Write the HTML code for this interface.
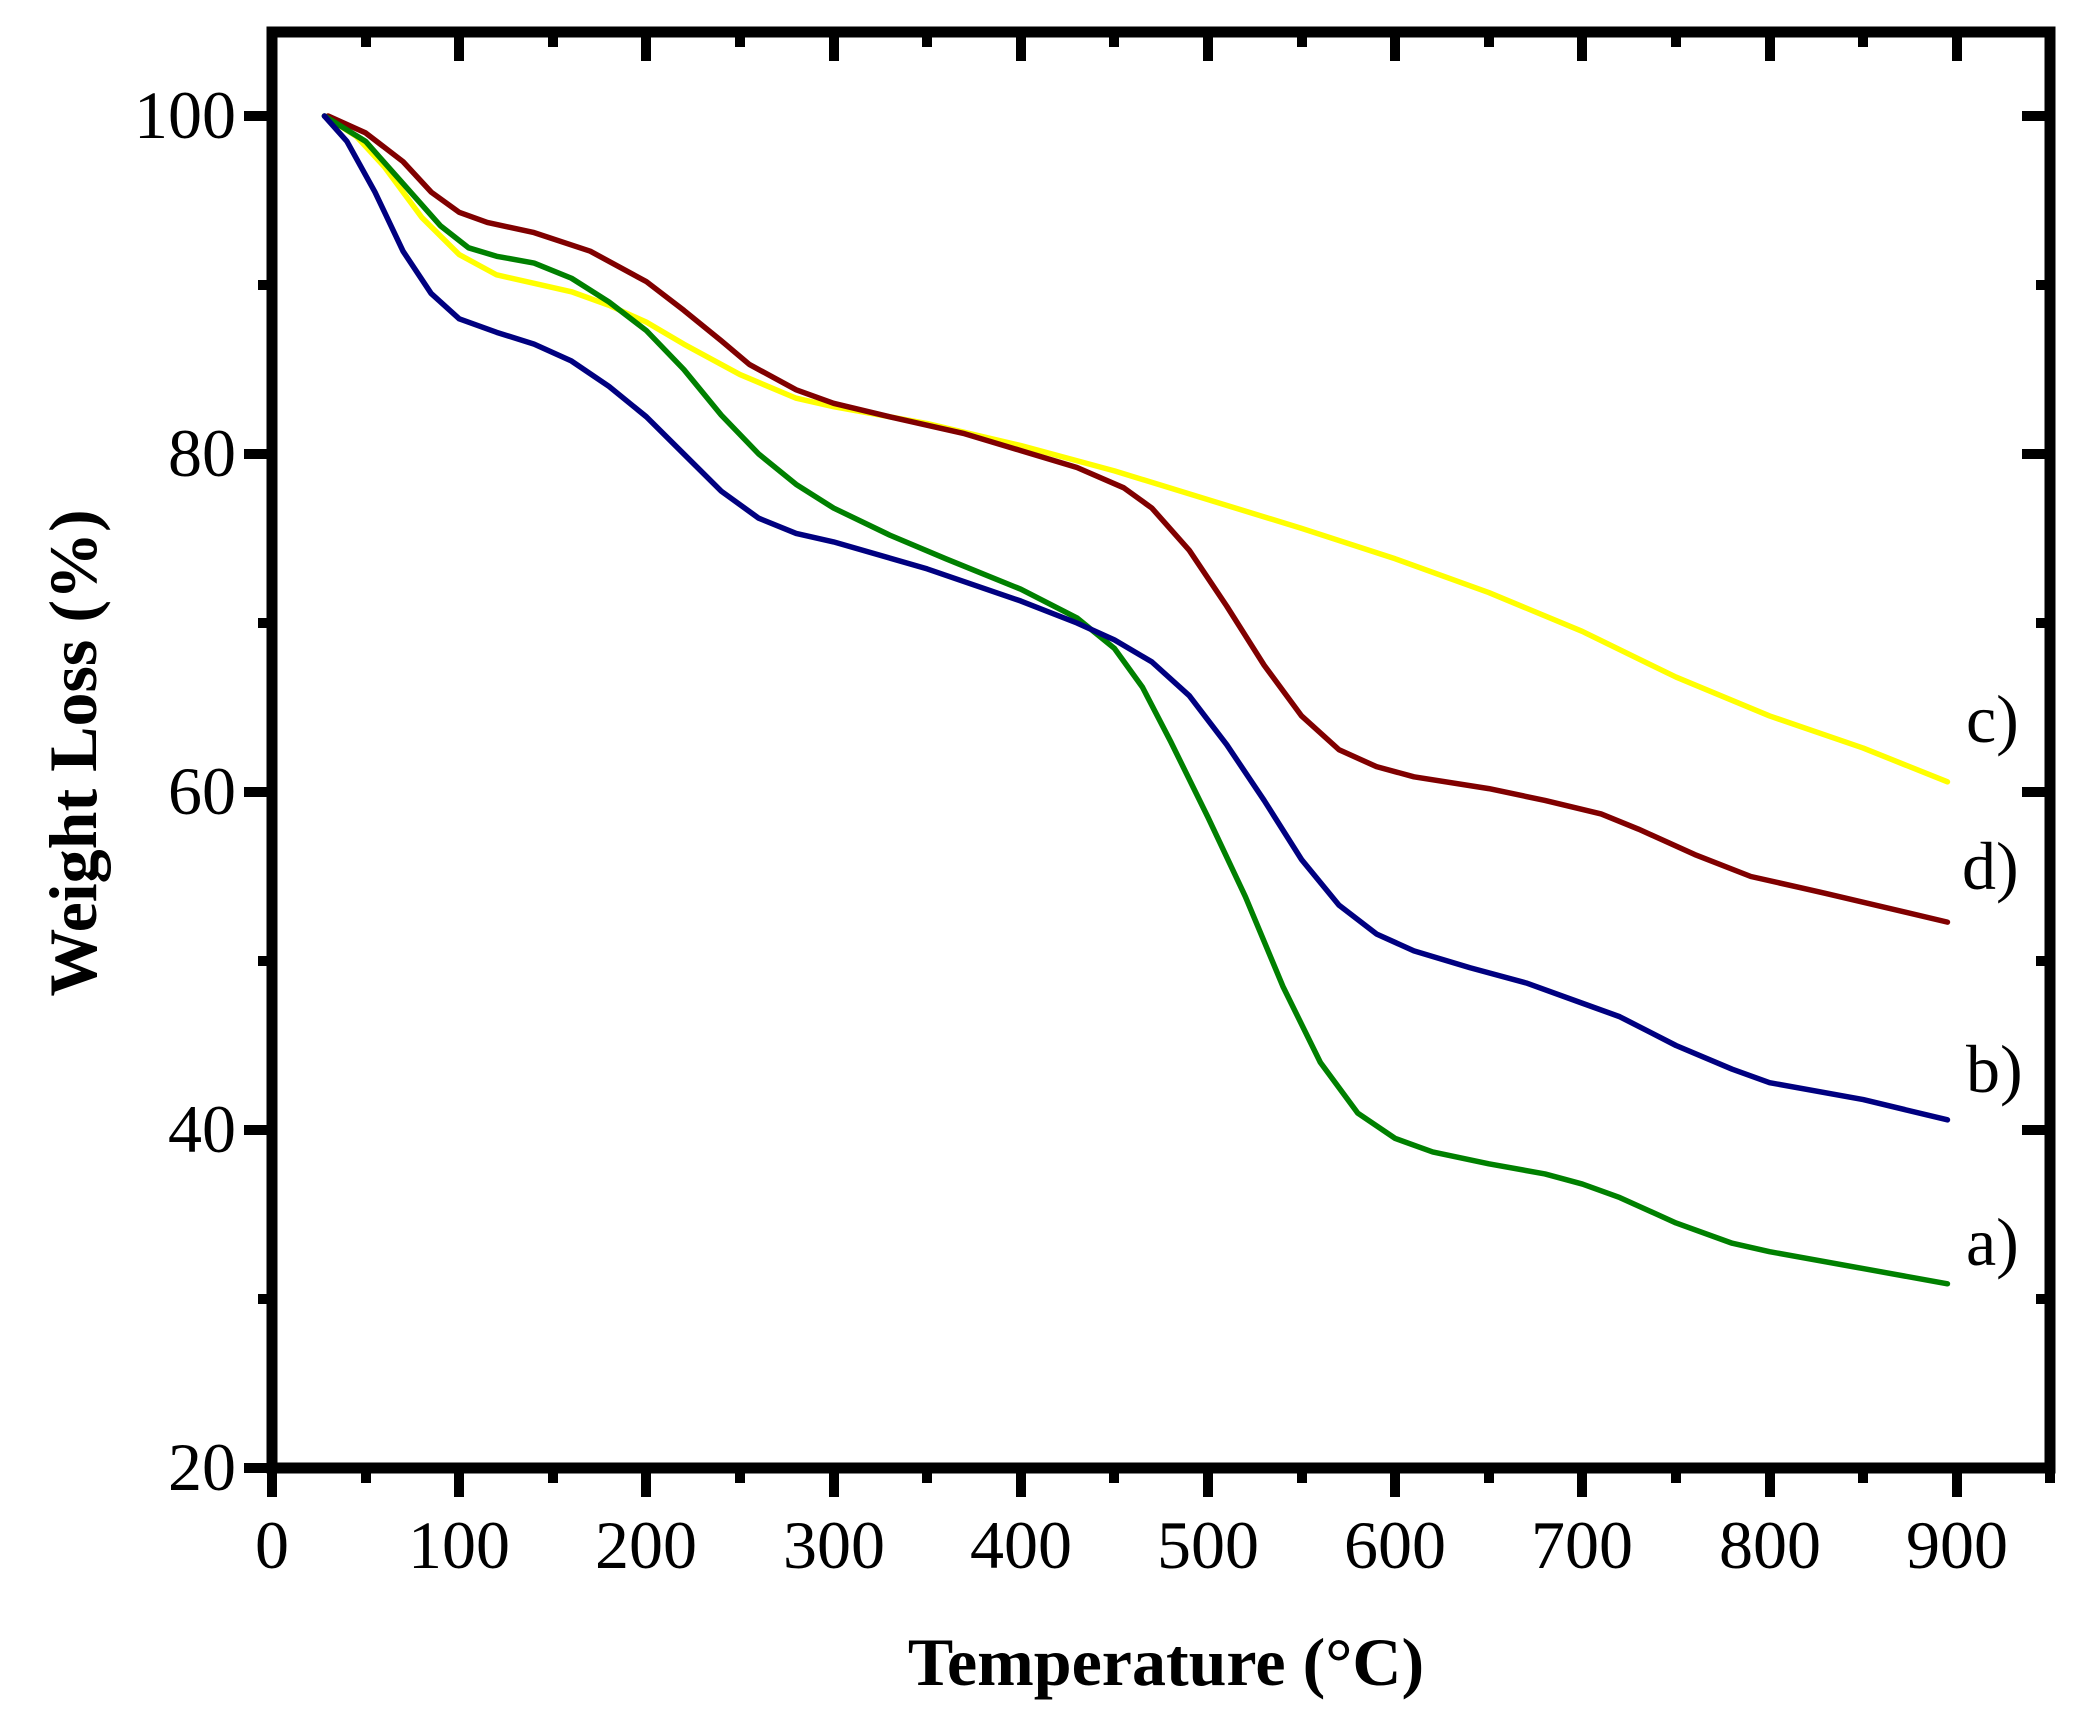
<!DOCTYPE html>
<html><head><meta charset="utf-8"><style>
html,body{margin:0;padding:0;background:#fff;}
svg{display:block;font-family:"Liberation Serif",serif;}
</style></head><body>
<svg width="2099" height="1721" viewBox="0 0 2099 1721" xmlns="http://www.w3.org/2000/svg">
<rect width="2099" height="1721" fill="#fff"/>
<g stroke="#000" stroke-width="10" fill="none">
<path d="M272 1468V1497 M459 1468V1497 M646 1468V1497 M834 1468V1497 M1021 1468V1497 M1208 1468V1497 M1395 1468V1497 M1582 1468V1497 M1770 1468V1497 M1957 1468V1497"/>
<path d="M366 1468V1483 M553 1468V1483 M740 1468V1483 M927 1468V1483 M1114 1468V1483 M1302 1468V1483 M1489 1468V1483 M1676 1468V1483 M1863 1468V1483 M2050 1468V1483"/>
<path d="M459 32V61 M646 32V61 M834 32V61 M1021 32V61 M1208 32V61 M1395 32V61 M1582 32V61 M1770 32V61 M1957 32V61"/>
<path d="M366 32V47 M553 32V47 M740 32V47 M927 32V47 M1114 32V47 M1302 32V47 M1489 32V47 M1676 32V47 M1863 32V47"/>
<path d="M244 1468H272 M244 1130H272 M244 792H272 M244 454H272 M244 116H272"/>
<path d="M258 1299H272 M258 961H272 M258 623H272 M258 285H272"/>
<path d="M2022 1130H2050 M2022 792H2050 M2022 454H2050 M2022 116H2050"/>
<path d="M2036 1299H2050 M2036 961H2050 M2036 623H2050 M2036 285H2050"/>
</g>
<rect x="272" y="32" width="1778" height="1436" fill="none" stroke="#000" stroke-width="11"/>
<g fill="#000" font-size="68" text-anchor="end">
<text x="236" y="1490">20</text>
<text x="236" y="1152">40</text>
<text x="236" y="814">60</text>
<text x="236" y="476">80</text>
<text x="236" y="138">100</text>
</g>
<g fill="#000" font-size="68" text-anchor="middle">
<text x="272" y="1568">0</text><text x="459" y="1568">100</text><text x="646" y="1568">200</text>
<text x="834" y="1568">300</text><text x="1021" y="1568">400</text><text x="1208" y="1568">500</text>
<text x="1395" y="1568">600</text><text x="1582" y="1568">700</text><text x="1770" y="1568">800</text>
<text x="1957" y="1568">900</text>
</g>
<text x="1166" y="1685" font-size="68" font-weight="bold" text-anchor="middle">Temperature (°C)</text>
<text transform="translate(96,753) rotate(-90)" font-size="68" font-weight="bold" text-anchor="middle">Weight Loss (%)</text>
<g font-size="68" fill="#000">
<text x="1966" y="742">c)</text>
<text x="1962" y="889">d)</text>
<text x="1966" y="1092">b)</text>
<text x="1966" y="1265">a)</text>
</g>
<g transform="translate(272,116) scale(1.872,-16.9)" fill="none" stroke-width="5.5" stroke-linejoin="round" stroke-linecap="round">
<polyline vector-effect="non-scaling-stroke" stroke="#ffff00" points="28,0 45,-1.2 60,-3 80,-6 100,-8.2 120,-9.4 140,-9.9 160,-10.4 180,-11.2 200,-12.2 220,-13.5 250,-15.3 280,-16.7 300,-17.2 350,-18.2 400,-19.5 450,-21 500,-22.7 550,-24.4 600,-26.2 650,-28.2 700,-30.5 750,-33.2 800,-35.5 850,-37.4 895,-39.4"/>
<polyline vector-effect="non-scaling-stroke" stroke="#800000" points="30,0 50,-1 70,-2.7 85,-4.5 100,-5.7 115,-6.3 140,-6.9 170,-8 200,-9.8 220,-11.5 240,-13.3 255,-14.7 280,-16.2 300,-17 330,-17.8 370,-18.8 400,-19.8 430,-20.8 455,-22 470,-23.2 490,-25.7 510,-29 530,-32.5 550,-35.5 570,-37.5 590,-38.5 610,-39.1 650,-39.8 680,-40.5 710,-41.3 730,-42.2 760,-43.7 790,-45 830,-46 895,-47.7"/>
<polyline vector-effect="non-scaling-stroke" stroke="#008000" points="28,0 50,-1.5 70,-4 90,-6.5 105,-7.8 120,-8.3 140,-8.7 160,-9.6 180,-11 200,-12.7 220,-15 240,-17.7 260,-20 280,-21.8 300,-23.2 330,-24.8 360,-26.2 400,-28 430,-29.7 450,-31.5 465,-33.8 480,-37 500,-41.5 520,-46.2 540,-51.5 560,-56 580,-59 600,-60.5 620,-61.3 650,-62 680,-62.6 700,-63.2 720,-64 750,-65.5 780,-66.7 800,-67.2 850,-68.2 895,-69.1"/>
<polyline vector-effect="non-scaling-stroke" stroke="#000080" points="28,0 40,-1.5 55,-4.5 70,-8 85,-10.5 100,-12 120,-12.8 140,-13.5 160,-14.5 180,-16 200,-17.8 220,-20 240,-22.2 260,-23.8 280,-24.7 300,-25.2 350,-26.8 400,-28.7 430,-30 450,-31 470,-32.3 490,-34.3 510,-37.2 530,-40.5 550,-44 570,-46.7 590,-48.4 610,-49.4 640,-50.4 670,-51.3 700,-52.5 720,-53.3 750,-55 780,-56.4 800,-57.2 850,-58.2 895,-59.4"/>
</g>
</svg>
</body></html>
